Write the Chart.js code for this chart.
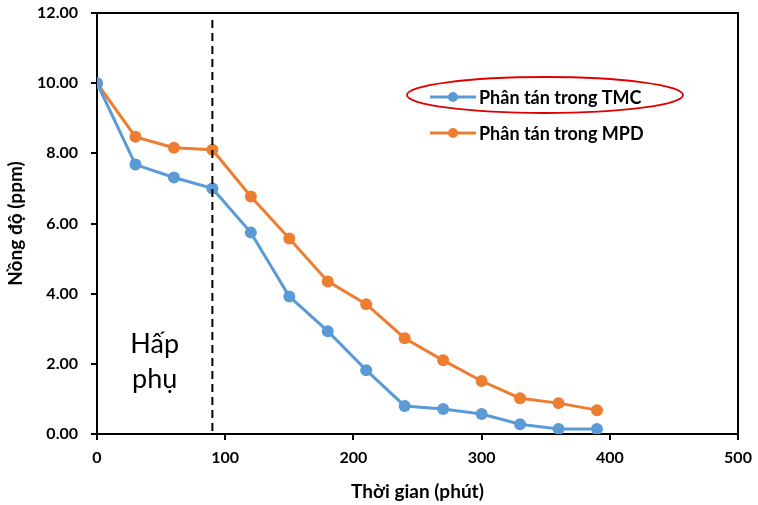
<!DOCTYPE html>
<html>
<head>
<meta charset="utf-8">
<script src="https://cdn.jsdelivr.net/npm/chart.js@4.4.0/dist/chart.umd.min.js"></script>
<style>
  html, body { margin: 0; padding: 0; background: #fff; }
  #wrap { width: 758px; height: 505px; }
</style>
</head>
<body>
<div id="wrap"><canvas id="myChart" width="758" height="505"></canvas></div>
<script>
// ---------------- data ----------------
var times = [0, 30, 60, 90, 120, 150, 180, 210, 240, 270, 300, 330, 360, 390];
var tmc = [10.0, 7.68, 7.31, 7.0, 5.74, 3.92, 2.93, 1.82, 0.8, 0.71, 0.57, 0.28, 0.14, 0.14];
var mpd = [10.0, 8.47, 8.16, 8.1, 6.77, 5.57, 4.35, 3.7, 2.73, 2.1, 1.51, 1.02, 0.88, 0.68];
var seriesNames = ['Phân tán trong TMC', 'Phân tán trong MPD'];
var seriesColors = ['#5B9BD5', '#ED7D31'];
var adsorbEnd = 90;         // dashed line position (phút)
var regionLabel = ['Hấp', 'phụ'];

var FONT = 'Lato, "Open Sans", sans-serif';

function pairs(xs, ys) {
    return xs.map((x, i) => ({ x: x, y: ys[i] }));
}

// ---------------- extras: frame, dashed line, label, legend ----------------
var extras = {
    id: 'extras',
    afterDatasetsDraw(chart) {
        var ctx = chart.ctx;
        var a = chart.chartArea;
        var xs = chart.scales.x, ys = chart.scales.y;
        ctx.save();

        // top + right frame
        ctx.strokeStyle = '#000';
        ctx.lineWidth = 2;
        ctx.beginPath();
        ctx.moveTo(a.left, a.top);
        ctx.lineTo(a.right, a.top);
        ctx.lineTo(a.right, a.bottom);
        ctx.stroke();

        // dashed line end of adsorption
        var px = xs.getPixelForValue(adsorbEnd);
        ctx.setLineDash([8, 5]);
        ctx.lineWidth = 2;
        ctx.beginPath();
        ctx.moveTo(px, ys.getPixelForValue(11.8));
        ctx.lineTo(px, a.bottom);
        ctx.stroke();
        ctx.setLineDash([]);

        // region label
        ctx.fillStyle = '#000';
        ctx.font = '27px ' + FONT;
        ctx.textAlign = 'center';
        ctx.textBaseline = 'middle';
        var lx = xs.getPixelForValue(45);
        ctx.fillText(regionLabel[0], lx, ys.getPixelForValue(2.55));
        ctx.fillText(regionLabel[1], lx, ys.getPixelForValue(1.55));

        // legend
        var lgX = a.left + 333, lgY = a.top + 84, step = 36;
        ctx.font = 'bold 18px ' + FONT;
        ctx.textAlign = 'left';
        chart.data.datasets.forEach((ds, i) => {
            var y = lgY + i * step;
            ctx.strokeStyle = ds.borderColor;
            ctx.lineWidth = 3;
            ctx.beginPath();
            ctx.moveTo(lgX, y);
            ctx.lineTo(lgX + 46, y);
            ctx.stroke();
            ctx.fillStyle = ds.borderColor;
            ctx.beginPath();
            ctx.arc(lgX + 23, y, 5, 0, Math.PI * 2);
            ctx.fill();
            ctx.fillStyle = '#000';
            ctx.fillText(ds.label, lgX + 49, y + 1);
        });

        // red ellipse around the first entry
        ctx.strokeStyle = '#E00000';
        ctx.lineWidth = 1.8;
        ctx.beginPath();
        ctx.ellipse(lgX + 115, lgY - 2, 138, 18, 0, 0, Math.PI * 2);
        ctx.stroke();

        ctx.restore();
    }
};

var ctx = document.getElementById('myChart').getContext('2d');
var chart = new Chart(ctx, {
    type: 'line',
    data: {
        datasets: seriesNames.map((name, i) => ({
            label: name,
            data: pairs(times, i === 0 ? tmc : mpd),
            borderColor: seriesColors[i],
            backgroundColor: seriesColors[i],
            borderWidth: 3,
            pointRadius: 6,
            pointHoverRadius: 6,
            pointBorderWidth: 0,
            tension: 0
        }))
    },
    options: {
        responsive: false,
        animation: false,
        layout: { padding: { top: 13, right: 20, left: 0, bottom: 0 } },
        plugins: {
            legend: { display: false },
            tooltip: { enabled: false }
        },
        scales: {
            x: {
                type: 'linear',
                min: 0, max: 500,
                ticks: {
                    stepSize: 100,
                    color: '#000',
                    font: { family: FONT, size: 16, weight: 'bold' },
                    padding: 8,
                    maxRotation: 0
                },
                grid: { drawOnChartArea: false, tickLength: 6, color: '#000', lineWidth: 2 },
                border: { color: '#000', width: 2 },
                title: {
                    display: true,
                    text: 'Thời gian (phút)',
                    color: '#000',
                    font: { family: FONT, size: 19, weight: 'bold' },
                    padding: { top: 0, bottom: 2 }
                },
                afterFit(s) { s.height = 71; s.paddingRight = 0; }
            },
            y: {
                min: 0, max: 12,
                ticks: {
                    stepSize: 2,
                    color: '#000',
                    font: { family: FONT, size: 16, weight: 'bold' },
                    padding: 13,
                    callback: (v) => v.toFixed(2)
                },
                grid: { drawOnChartArea: false, tickLength: 6, color: '#000', lineWidth: 2 },
                border: { color: '#000', width: 2 },
                title: {
                    display: true,
                    text: 'Nồng độ (ppm)',
                    color: '#000',
                    font: { family: FONT, size: 19, weight: 'bold' },
                    padding: { top: 4, bottom: 0 }
                },
                afterFit(s) { s.width = 97; s.paddingTop = 0; s.paddingBottom = 0; }
            }
        }
    },
    plugins: [extras]
});
</script>
</body>
</html>
